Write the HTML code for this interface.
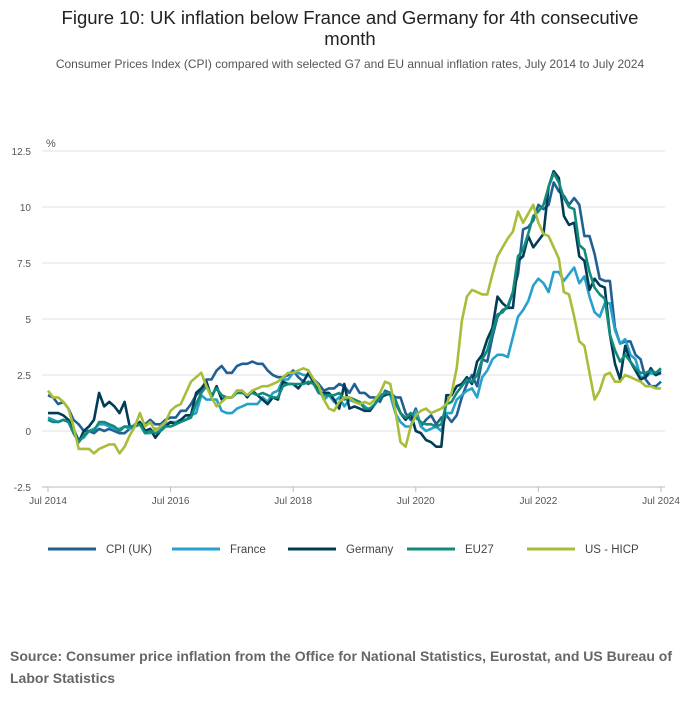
<!DOCTYPE html>
<html><head><meta charset="utf-8"><style>
body{margin:0;background:#fff;font-family:"Liberation Sans",sans-serif;}
#wrap{position:relative;width:700px;height:707px;overflow:hidden}
.t{position:absolute;left:0;width:700px;text-align:center;color:#222}
</style></head><body>
<div id="wrap">
<div class="t" style="top:7px;font-size:18.5px;line-height:21px">Figure 10: UK inflation below France and Germany for 4th consecutive<br>month</div>
<div class="t" style="top:57px;font-size:12px;color:#555">Consumer Prices Index (CPI) compared with selected G7 and EU annual inflation rates, July 2014 to July 2024</div>
<svg id="chart" width="700" height="707" style="position:absolute;left:0;top:0"></svg>
<div style="position:absolute;left:10px;top:645px;width:680px;font-size:14px;font-weight:bold;color:#666;line-height:22px">Source: Consumer price inflation from the Office for National Statistics, Eurostat, and US Bureau of Labor Statistics</div>
</div>
<script>
const yTicks=[-2.5,0,2.5,5,7.5,10,12.5];
const yTickLabels=["-2.5","0","2.5","5","7.5","10","12.5"];
const xTickIdx=[0,24,48,72,96,120];
const xTickLabels=["Jul 2014","Jul 2016","Jul 2018","Jul 2020","Jul 2022","Jul 2024"];
const seriesNames=["CPI (UK)","France","Germany","EU27","US - HICP"];
const uk=[1.6,1.5,1.2,1.3,1.0,0.5,
0.3,0.0,0.0,-0.1,0.1,0.0,0.1,0.0,-0.1,-0.1,0.1,0.2,
0.3,0.3,0.5,0.3,0.3,0.5,0.6,0.6,0.9,0.9,1.2,1.6,
1.8,2.3,2.3,2.7,2.9,2.6,2.6,2.9,3.0,3.0,3.1,3.0,
3.0,2.7,2.5,2.4,2.4,2.5,2.7,2.4,2.2,2.1,2.3,2.1,
1.8,1.9,1.9,2.1,2.0,1.7,2.1,1.7,1.7,1.5,1.5,1.3,
1.8,1.7,1.5,1.5,0.8,0.5,1.0,0.2,0.5,0.7,0.3,0.6,
0.7,0.4,0.7,1.5,2.1,2.5,2.0,3.2,3.1,4.2,5.1,5.4,
5.5,6.2,7.0,9.0,9.1,9.4,10.1,9.9,10.1,11.1,10.7,10.5,
10.1,10.4,10.1,8.7,8.7,7.9,6.8,6.7,6.7,4.6,3.9,4.0,
4.0,3.4,3.2,2.3,2.0,2.0,2.2];
const france=[0.6,0.5,0.4,0.5,0.4,0.1,
-0.4,-0.3,0.0,0.1,0.3,0.3,0.2,0.1,0.1,0.2,0.1,0.3,
0.3,-0.1,-0.1,0.1,0.1,0.3,0.4,0.4,0.5,0.5,0.7,0.8,
1.6,1.4,1.4,1.4,0.9,0.8,0.8,1.0,1.1,1.2,1.2,1.2,
1.5,1.3,1.7,1.8,2.3,2.3,2.6,2.6,2.5,2.5,2.2,1.9,
1.4,1.6,1.3,1.5,1.1,1.4,1.3,1.3,1.1,0.9,1.2,1.6,
1.7,1.6,0.8,0.4,0.2,0.2,0.9,0.2,0.0,0.1,0.2,0.0,
0.8,0.8,1.4,1.6,1.8,1.9,1.5,2.4,2.7,3.2,3.4,3.4,
3.3,4.2,5.1,5.4,5.8,6.5,6.8,6.6,6.2,7.1,7.1,6.7,
7.0,7.3,6.6,6.9,6.0,5.3,5.1,5.7,5.7,4.5,3.9,4.1,
3.4,3.2,2.4,2.4,2.6,2.5,2.7];
const germany=[0.8,0.8,0.8,0.7,0.5,0.1,
-0.5,0.0,0.2,0.5,1.7,1.1,1.3,1.1,0.8,1.3,0.2,0.2,
0.4,0.0,0.1,-0.3,0.0,0.2,0.4,0.3,0.5,0.7,0.7,1.7,
1.9,2.2,1.5,2.0,1.4,1.5,1.5,1.8,1.8,1.5,1.8,1.6,
1.4,1.2,1.5,1.4,2.2,2.1,2.1,1.9,2.2,2.6,2.2,1.7,
1.7,1.7,1.4,1.0,2.1,1.0,1.1,1.0,0.9,0.9,1.2,1.5,
1.6,1.7,1.3,0.8,0.5,0.8,0.0,-0.1,-0.4,-0.5,-0.7,-0.7,
1.6,1.6,2.0,2.1,2.4,2.1,3.1,3.4,4.1,4.6,6.0,5.7,
5.5,5.5,7.6,7.8,8.7,8.2,8.5,8.8,10.9,11.6,11.3,9.6,
9.2,9.3,7.8,7.6,6.3,6.8,6.5,6.4,4.3,3.0,2.3,3.8,
3.1,2.7,2.3,2.4,2.8,2.5,2.6];
const eu27=[0.5,0.4,0.4,0.5,0.4,-0.1,
-0.5,-0.2,0.0,0.0,0.4,0.4,0.3,0.2,0.0,0.2,0.2,0.2,
0.3,-0.1,0.0,-0.1,0.0,0.2,0.2,0.3,0.4,0.5,0.6,1.2,
1.7,2.0,1.6,1.9,1.6,1.5,1.5,1.7,1.7,1.6,1.7,1.6,
1.7,1.6,1.5,1.5,2.0,2.1,2.1,2.1,2.1,2.2,2.1,1.7,
1.6,1.6,1.6,1.7,1.4,1.5,1.4,1.3,1.0,1.0,1.2,1.5,
1.7,1.7,1.4,0.8,0.6,0.8,0.6,0.4,0.3,0.3,0.2,0.3,
1.2,1.3,1.7,2.0,2.3,2.2,2.5,3.2,3.6,4.4,5.2,5.3,
5.6,6.2,7.8,8.1,8.8,9.6,9.8,10.1,10.9,11.5,11.1,10.4,
10.0,9.9,8.3,8.1,7.1,6.4,6.1,5.9,4.3,3.6,3.1,3.4,
3.1,2.8,2.6,2.6,2.7,2.6,2.8];
const us=[1.8,1.5,1.5,1.3,1.0,0.2,
-0.8,-0.8,-0.8,-1.0,-0.8,-0.7,-0.6,-0.6,-1.0,-0.7,-0.2,0.2,
0.8,0.2,0.4,0.0,0.2,0.4,0.9,1.1,1.2,1.7,2.2,2.4,
2.6,2.0,1.5,1.1,1.3,1.5,1.5,1.8,1.8,1.6,1.8,1.9,
2.0,2.0,2.1,2.2,2.4,2.6,2.6,2.7,2.8,2.7,2.3,2.0,
1.4,1.0,0.9,1.3,1.5,1.5,1.3,1.2,1.3,1.2,1.4,1.7,
2.2,2.1,0.9,-0.5,-0.7,0.2,0.7,0.9,1.0,0.8,0.9,1.0,
1.2,1.7,2.8,4.9,6.0,6.3,6.2,6.1,6.1,7.0,7.8,8.2,
8.6,8.9,9.8,9.3,9.7,10.1,9.3,8.8,8.7,8.2,7.7,6.2,
6.1,5.1,4.0,3.8,2.6,1.4,1.8,2.5,2.6,2.2,2.2,2.5,
2.4,2.3,2.2,2.0,2.0,1.9,1.9];
const colors=["#206095","#27a0cc","#003c57","#118c7b","#a8bd3a"];
const allSeries=[uk,france,germany,eu27,us];
const svg=document.getElementById('chart');
const NS="http://www.w3.org/2000/svg";
const X0=48,X1=661,Y0=487,Y1=151,VMIN=-2.5,VMAX=12.5,N=120;
function xs(i){return X0+(X1-X0)*i/N;}
function ys(v){return Y0-(v-VMIN)/(VMAX-VMIN)*(Y0-Y1);}
function mk(t,a){const e=document.createElementNS(NS,t);for(const k in a)e.setAttribute(k,a[k]);svg.appendChild(e);return e;}
yTicks.forEach((v,i)=>{
  const l=mk('line',{x1:42,x2:665,y1:ys(v),y2:ys(v),stroke:v===-2.5?'#bbb':'#e2e2e2','stroke-width':1});
  
  
  const t=mk('text',{x:31,y:ys(v)+4,'text-anchor':'end','font-size':10,fill:'#555'});
  t.textContent=yTickLabels[i];
  
  
});
const pct=mk('text',{x:46,y:147,'font-size':11,fill:'#555'});pct.textContent='%';


xTickIdx.forEach((idx,i)=>{
  const l=mk('line',{x1:xs(idx),x2:xs(idx),y1:487,y2:492,stroke:'#bbb'});
  
  
  const t=mk('text',{x:xs(idx),y:504,'text-anchor':'middle','font-size':10,fill:'#555'});
  t.textContent=xTickLabels[i];
  
  
});
allSeries.forEach((s,k)=>{
  const d=s.map((v,i)=>(i?'L':'M')+xs(i).toFixed(1)+' '+ys(v).toFixed(1)).join(' ');
  const p=mk('path',{d:d,fill:'none',stroke:colors[k],'stroke-width':2.6,'stroke-linejoin':'round'});
  
  
});
const legX=[48,172,288,407,527];
seriesNames.forEach((n,k)=>{
  const l=mk('line',{x1:legX[k],x2:legX[k]+48,y1:549,y2:549,stroke:colors[k],'stroke-width':3});
  
  
  const t=mk('text',{x:legX[k]+58,y:553,'font-size':11.5,fill:'#444'});
  t.textContent=n;
  
  
});
</script>
</body></html>
